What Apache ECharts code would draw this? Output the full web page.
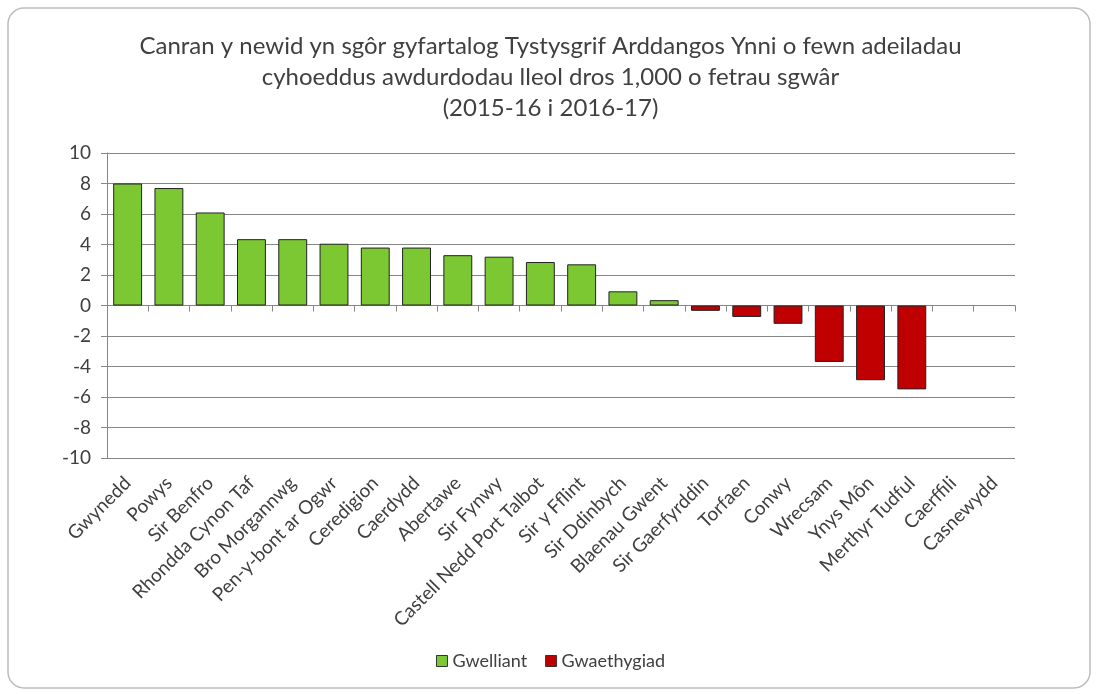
<!DOCTYPE html>
<html>
<head>
<meta charset="utf-8">
<style>
  html, body { margin: 0; padding: 0; background: #fff; }
  #chart { width: 1101px; height: 694px; }
</style>
<script src="https://cdn.jsdelivr.net/npm/echarts@6/dist/echarts.min.js"></script>
</head>
<body>
<div id="chart"></div>
<script>
var categories = [
  "Gwynedd", "Powys", "Sir Benfro", "Rhondda Cynon Taf", "Bro Morgannwg",
  "Pen-y-bont ar Ogwr", "Ceredigion", "Caerdydd", "Abertawe", "Sir Fynwy",
  "Castell Nedd Port Talbot", "Sir y Fflint", "Sir Ddinbych", "Blaenau Gwent",
  "Sir Gaerfyrddin", "Torfaen", "Conwy", "Wrecsam", "Ynys Môn",
  "Merthyr Tudful", "Caerffili", "Casnewydd"
];
// improvement (green)
var gwelliant = [
  8.0, 7.7, 6.1, 4.35, 4.35, 4.05, 3.8, 3.8, 3.3, 3.2, 2.85, 2.7, 0.93, 0.35,
  null, null, null, null, null, null, null, null
];
// worsening (red)
var gwaethygiad = [
  null, null, null, null, null, null, null, null, null, null, null, null, null, null,
  -0.35, -0.75, -1.2, -3.7, -4.9, -5.5, null, null
];
var titleLines = [
  "Canran y newid yn sgôr gyfartalog Tystysgrif Arddangos Ynni o fewn adeiladau",
  "cyhoeddus awdurdodau lleol dros 1,000 o fetrau sgwâr",
  "(2015-16 i 2016-17)"
];

var myChart = echarts.init(document.getElementById("chart"));
var textColor = "#404040";
var gridColor = "#868686";
var font = "Lato";

var option = {
  animation: false,
  graphic: [
    {
      type: "rect",
      shape: { x: 8, y: 8, width: 1082, height: 680, r: 16 },
      style: { fill: "#fff", stroke: "#bcbcbc", lineWidth: 1.5 },
      z: -10
    }
  ],
  title: {
    text: titleLines.join("\n"),
    left: "center",
    top: 26,
    textStyle: {
      fontFamily: font,
      fontSize: 24,
      fontWeight: "normal",
      color: "#404040",
      lineHeight: 31
    }
  },
  legend: {
    bottom: 19,
    left: "center",
    itemWidth: 11,
    itemHeight: 11,
    itemGap: 18,
    icon: "rect",
    textStyle: { fontFamily: font, fontSize: 18, color: textColor },
    data: [
      { name: "Gwelliant", itemStyle: { borderColor: "#333", borderWidth: 1 } },
      { name: "Gwaethygiad", itemStyle: { borderColor: "#333", borderWidth: 1 } }
    ]
  },
  grid: { left: 107, right: 86, top: 153, bottom: 236 },
  xAxis: [
    {
      type: "category",
      data: categories,
      position: "bottom",
      axisLine: { show: false, onZero: false },
      axisTick: { show: false },
      axisLabel: {
        rotate: 45,
        interval: 0,
        margin: 22,
        fontFamily: font,
        fontSize: 19,
        color: textColor
      }
    },
    {
      type: "category",
      data: categories,
      position: "top",
      axisLine: { show: true, onZero: true, lineStyle: { color: gridColor, width: 1 } },
      axisTick: { show: true, inside: true, interval: 0, length: 6, lineStyle: { color: gridColor } },
      axisLabel: { show: false }
    }
  ],
  yAxis: {
    type: "value",
    min: -10,
    max: 10,
    interval: 2,
    axisLine: { show: true, lineStyle: { color: gridColor } },
    axisTick: { show: true, length: 6, lineStyle: { color: gridColor } },
    splitLine: { lineStyle: { color: gridColor, width: 1 } },
    axisLabel: {
      margin: 16,
      fontFamily: font,
      fontSize: 19,
      color: textColor
    }
  },
  series: [
    {
      name: "Gwelliant",
      type: "bar",
      stack: "all",
      data: gwelliant,
      barWidth: "70%",
      itemStyle: { color: "#7cc832", borderColor: "#222", borderWidth: 1 }
    },
    {
      name: "Gwaethygiad",
      type: "bar",
      stack: "all",
      data: gwaethygiad,
      barWidth: "70%",
      itemStyle: { color: "#c00000", borderColor: "#222", borderWidth: 1 }
    }
  ]
};

myChart.setOption(option);
</script>
</body>
</html>
